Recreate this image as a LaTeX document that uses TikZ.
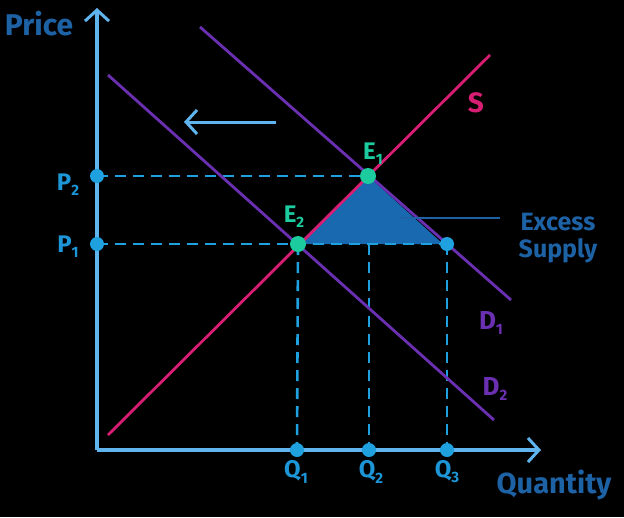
\documentclass[tikz,border=0pt]{standalone}
\usepackage{fontspec}
\setmainfont{Fira Sans}
\usetikzlibrary{arrows.meta}
\definecolor{axisblue}{HTML}{5FB4EE}
\definecolor{dashblue}{HTML}{1FA0DF}
\definecolor{lblblue}{HTML}{1C96D6}
\definecolor{darkblue}{HTML}{1E62A6}
\definecolor{eqgreen}{HTML}{1CCB9E}
\definecolor{supmag}{HTML}{D81E72}
\definecolor{dempur}{HTML}{6B30B2}
\definecolor{trifill}{HTML}{1869B0}
\newcommand{\lsub}[1]{\raisebox{-0.4ex}{\fontsize{15}{15}\selectfont #1}}
\tikzset{
  axisline/.style={axisblue,line width=3.5pt,-{Straight Barb[length=11pt,width=24pt,line width=3pt]}},
  guide/.style={dashblue,line width=2.6pt,dash pattern=on 11pt off 7pt},
  curveS/.style={supmag,line width=2.8pt},
  curveD/.style={dempur,line width=2.8pt},
  dot/.style={circle,fill=dashblue,inner sep=0pt,minimum size=14pt},
  gdot/.style={circle,fill=eqgreen,inner sep=0pt,minimum size=16pt},
  axlbl/.style={font=\fontsize{30}{32}\selectfont\bfseries,text=darkblue,inner sep=0pt},
  tick/.style={font=\fontsize{24}{26}\selectfont\bfseries,text=lblblue,inner sep=0pt},
  elbl/.style={font=\fontsize{24}{26}\selectfont\bfseries,text=eqgreen,inner sep=0pt},
}
\begin{document}
\begin{tikzpicture}[x=1pt,y=-1pt]
\fill[black] (0,0) rectangle (624,517);
\useasboundingbox (0,0) rectangle (624,517);
% coordinates
\coordinate (O) at (97,450);
\coordinate (Ytop) at (97,8);
\coordinate (Xend) at (541,450);
\coordinate (P2) at (97,176);
\coordinate (P1) at (97,244);
\coordinate (E1) at (368,176);
\coordinate (E2) at (298,244);
\coordinate (C) at (447,244);
\coordinate (M) at (369,244);
\coordinate (Q1) at (297,450);
\coordinate (Q2) at (369,450);
\coordinate (Q3) at (447,450);
\coordinate (S0) at (108,435);
\coordinate (S1) at (490,55);
\coordinate (Da0) at (200,27);
\coordinate (Da1) at (511,300);
\coordinate (Db0) at (108,75);
\coordinate (Db1) at (494,420);
\coordinate (T3) at (443,244);
\coordinate (L0) at (400,218);
\coordinate (L1) at (500,218);
\coordinate (A0) at (276,122);
\coordinate (A1) at (184,122);
% triangle
\fill[trifill] (E1) -- (E2) -- (T3) -- cycle;
% guides
\draw[guide] (P2) -- (E1);
\draw[guide] (P1) -- (C);
\draw[guide] (E2) -- (Q1);
\draw[guide] (M) -- (Q2);
\draw[guide] (C) -- (Q3);
% curves
\draw[curveD] (Da0) -- (Da1);
\draw[curveD] (Db0) -- (Db1);
\draw[curveS] (S0) -- (S1);
% axes
\draw[axisline] (O) -- (Ytop);
\draw[axisline] (O) -- (Xend);
% shift arrow
\draw[axisline,line width=3pt] (A0) -- (A1);
% leader
\draw[darkblue,line width=2.5pt] (L0) -- (L1);
% dots
\node[dot] (dP2) at (P2) {};
\node[dot] (dP1) at (P1) {};
\node[dot] (dC) at (C) {};
\node[dot] (dQ1) at (Q1) {};
\node[dot] (dQ2) at (Q2) {};
\node[dot] (dQ3) at (Q3) {};
\node[gdot] (dE1) at (E1) {};
\node[gdot] (dE2) at (E2) {};
% labels
\node[axlbl] (price) at (39,24) {Price};
\node[axlbl,font=\fontsize{29}{31}\selectfont\bfseries] (qty) at (554,485) {Quantity};
\node[axlbl,align=center,font=\fontsize{25}{27}\selectfont\bfseries] (xs) at (558,238) {Excess\\Supply};
\node[tick] (lP2) at (68,185) {P\lsub{2}};
\node[tick] (lP1) at (68,247) {P\lsub{1}};
\node[tick] (lQ1) at (296,472) {Q\lsub{1}};
\node[tick] (lQ2) at (371,472) {Q\lsub{2}};
\node[tick] (lQ3) at (447,472) {Q\lsub{3}};
\node[elbl] (lE1) at (373,154) {E\lsub{1}};
\node[elbl] (lE2) at (294,217) {E\lsub{2}};
\node[font=\fontsize{28}{30}\selectfont\bfseries,text=supmag,inner sep=0pt] (lS) at (476,103) {S};
\node[font=\fontsize{26}{28}\selectfont\bfseries,text=dempur,inner sep=0pt] (lD1) at (491,323) {D\lsub{1}};
\node[font=\fontsize{26}{28}\selectfont\bfseries,text=dempur,inner sep=0pt] (lD2) at (495,389) {D\lsub{2}};
\end{tikzpicture}
\end{document}
